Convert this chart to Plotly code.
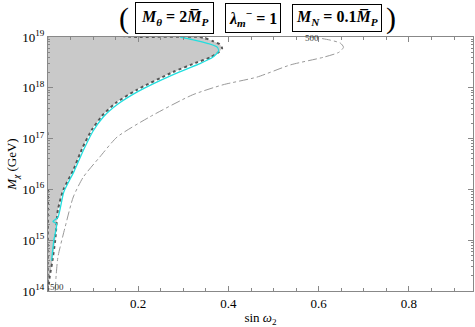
import plotly.graph_objects as go

# gray excluded region boundary (sin w2, M_chi in GeV)
region_x = [0.0, 0.0, 0.004, 0.009, 0.016, 0.022, 0.034, 0.056, 0.077, 0.097, 0.12, 0.15, 0.197, 0.277, 0.33, 0.36, 0.378, 0.386, 0.38, 0.365, 0.35, 0.335, 0.2, 0.0, 0.0]
region_m = [1e16, 1e14, 10**14.3, 10**14.55, 1e15, 10**15.6, 10**15.99, 10**16.38, 10**16.83, 10**17.17, 10**17.45, 10**17.7, 10**17.96, 10**18.31, 10**18.5, 10**18.6, 10**18.7, 10**18.78, 10**18.86, 10**18.92, 10**18.97, 1e19, 1e19, 1e19, 1e17]

# cyan curve
cyan_x = [0.008, 0.013, 0.019, 0.011, 0.022, 0.035, 0.058, 0.08, 0.1, 0.123, 0.155, 0.2, 0.28, 0.335, 0.365, 0.378, 0.375, 0.355, 0.32, 0.293]
cyan_m = [10**14.6, 1e15, 10**15.32, 10**15.37, 10**15.45, 10**15.95, 10**16.36, 10**16.8, 10**17.15, 10**17.43, 10**17.68, 10**17.93, 10**18.27, 10**18.47, 10**18.6, 10**18.72, 10**18.8, 10**18.87, 10**18.95, 1e19]

# dash-dot contour "500"
c500_x = [0.016, 0.018, 0.022, 0.038, 0.056, 0.078, 0.115, 0.153, 0.226, 0.32, 0.388, 0.463, 0.537, 0.61, 0.645, 0.655, 0.648, 0.625, 0.6, 0.58]
c500_m = [1e14, 10**14.3, 10**14.67, 10**15.26, 10**15.85, 10**16.24, 10**16.64, 10**17.03, 10**17.43, 10**17.86, 10**18.06, 10**18.21, 10**18.45, 10**18.6, 10**18.7, 10**18.8, 10**18.88, 10**18.94, 10**18.98, 1e19]

y_ticks = [1e14, 1e15, 1e16, 1e17, 1e18, 1e19]
y_ticktext = ["10<sup>14</sup>", "10<sup>15</sup>", "10<sup>16</sup>", "10<sup>17</sup>", "10<sup>18</sup>", "10<sup>19</sup>"]
x_ticks = [0.2, 0.4, 0.6, 0.8]
x_ticktext = ["0.2", "0.4", "0.6", "0.8"]

SERIF = "Liberation Serif"
fig = go.Figure()
fig.add_trace(go.Scatter(x=region_x, y=region_m, fill="toself", fillcolor="rgb(201,201,201)",
                         mode="lines", line=dict(color="#555555", width=2, dash="dot", shape="spline", smoothing=0.6),
                         hoverinfo="skip"))
fig.add_trace(go.Scatter(x=cyan_x, y=cyan_m, mode="lines",
                         line=dict(color="#22dede", width=1.3, shape="spline", smoothing=0.6)))
fig.add_trace(go.Scatter(x=c500_x, y=c500_m, mode="lines",
                         line=dict(color="#999999", width=1, dash="dashdot", shape="spline", smoothing=0.6)))

fig.add_annotation(x=0.585, y=18.99, xref="x", yref="y", text="500", showarrow=False,
                   font=dict(family=SERIF, size=9, color="#333"))
fig.add_annotation(x=0.021, y=14.08, xref="x", yref="y", text="500", showarrow=False,
                   font=dict(family=SERIF, size=9, color="#333"))

ty = 1.073
def px2paper(px):
    return (px - 48) / 425.0
boxes = [
    (174, 5, "<b><i>M</i><sub><i>θ</i></sub> = 2<i>M̅</i><sub><i>P</i></sub></b>"),
    (252.5, 3, "<b><i>λ</i><sub><i>m</i></sub><sup>−</sup> = 1</b>"),
    (337, 3, "<b><i>M</i><sub><i>N</i></sub> = 0.1<i>M̅</i><sub><i>P</i></sub></b>"),
]
for px, pad, t in boxes:
    fig.add_annotation(x=px2paper(px), y=ty, xref="paper", yref="paper", text=t, showarrow=False,
                       font=dict(family=SERIF, size=16, color="black"), bordercolor="black",
                       borderwidth=1, borderpad=pad, xanchor="center", yanchor="middle")
for px, t in [(124, "("), (391, ")")]:
    fig.add_annotation(x=px2paper(px), y=ty, xref="paper", yref="paper", text=t, showarrow=False,
                       font=dict(family=SERIF, size=30, color="black"), xanchor="center", yanchor="middle")

fig.update_layout(
    width=475, height=327, margin=dict(l=48, r=2, t=37, b=36),
    plot_bgcolor="white", paper_bgcolor="white", showlegend=False,
    font=dict(family=SERIF, size=13, color="black"),
)
fig.update_xaxes(range=[0, 0.942], tickvals=x_ticks, ticktext=x_ticktext, ticks="inside", ticklen=5,
                 tickcolor="#888", showline=True, linecolor="#888", linewidth=1, mirror="ticks",
                 showgrid=False, zeroline=False,
                 minor=dict(ticks="inside", ticklen=3, dtick=0.05, tickcolor="#888", showgrid=False),
                 title=dict(text="sin <i>ω</i><sub>2</sub>", font=dict(family=SERIF, size=13), standoff=4))
fig.update_yaxes(type="log", range=[14, 19], tickvals=y_ticks, ticktext=y_ticktext, ticks="inside", ticklen=5,
                 tickcolor="#888", showline=True, linecolor="#888", linewidth=1, mirror="ticks",
                 showgrid=False, zeroline=False,
                 minor=dict(ticks="inside", ticklen=2, dtick="D1", tickcolor="#888", showgrid=False),
                 title=dict(text="<i>M</i><sub><i>χ</i></sub> (GeV)", font=dict(family=SERIF, size=13), standoff=2))

fig.write_html("out.html", config={"displayModeBar": False},
               post_script="document.body.style.margin='0';document.body.style.overflow='hidden';")
